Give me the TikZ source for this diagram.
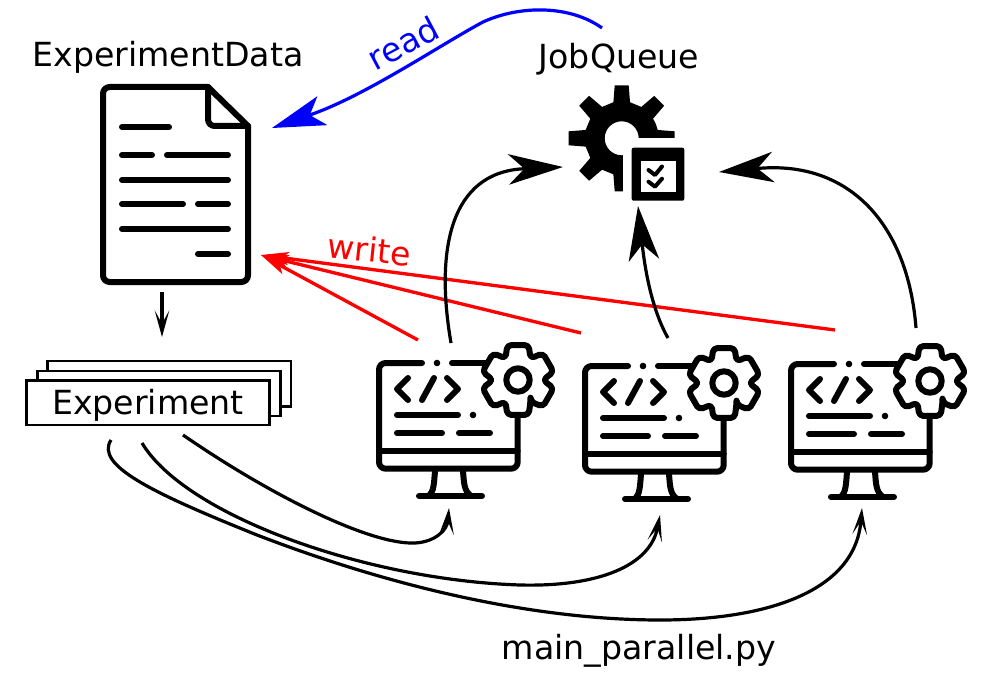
\documentclass[tikz,border=0pt]{standalone}
\usepackage{fontspec}
\setmainfont{DejaVu Sans}
\usetikzlibrary{arrows.meta}
\tikzset{
	iconline/.style={line width=4.5pt, line cap=round, line join=round},
	checkline/.style={line width=3pt, line cap=round, line join=round},
	textlabel/.style={anchor=base, inner sep=0pt, font=\fontsize{24.9}{30}\selectfont},
	stackbox/.style={draw, line width=2pt, fill=white, anchor=north west, inner sep=0pt, outer sep=0pt},
	bigarrow/.style={line width=2.4pt, -{Stealth[length=41pt, width=23pt, inset=12pt, line width=0pt]}},
	smallarrow/.style={line width=2.4pt, -{Stealth[length=20pt, width=11pt, inset=10pt, line width=0pt]}},
	readarrow/.style={line width=2.4pt, color=blue, -{Stealth[length=40pt, width=23pt, inset=10pt, line width=0pt]}},
	writearrow/.style={line width=2.5pt, color=red, -{Stealth[length=21pt, width=10pt, inset=5pt, line width=0pt]}},
	monitor/.pic={
		\draw[iconline, rounded corners=5pt] (43, 0) -- (0, 0) -- (0, 105.7) -- (138.7, 105.7) -- (138.7, 52);
		\draw[iconline] (73, 0) -- (106, 0);
		\draw[iconline] (0, 88) -- (138.7, 88);
		\fill (58, 0) circle (3.3);
		\draw[iconline] (29, 15) -- (18, 26) -- (29, 37);
		\draw[iconline] (55, 15) -- (43, 37);
		\draw[iconline] (68, 15) -- (79, 26) -- (68, 37);
		\draw[iconline] (18, 52) -- (79, 52);
		\fill (94, 52) circle (3.3);
		\draw[iconline] (18, 70) -- (63, 70);
		\draw[iconline] (80, 70) -- (111, 70);
		\draw[iconline] (56, 108) .. controls (55, 120) and (55, 128) .. (50, 133);
		\draw[iconline] (84, 108) .. controls (85, 120) and (85, 128) .. (92, 133);
		\draw[iconline] (40, 133) -- (103, 133);
		\draw[iconline, fill=white, rounded corners=3pt, shift={(139, 17)}] (60:25)
			foreach \a in {90, 150, 210, 270, 330, 390} {-- (\a-17:36.5) -- (\a+17:36.5) -- (\a+30:25)} -- cycle;
		\draw[iconline] (139, 17) circle (11.7);
	}
}

\begin{document}
\begin{tikzpicture}[x=0.75pt, y=-0.75pt]
	%%%%% START %%%%%
	\useasboundingbox (0, 0) rectangle (993, 699);

	\node[textlabel] (datalabel) at (168, 67) {ExperimentData};
	\node[textlabel] (queuelabel) at (619, 69) {JobQueue};
	\node[textlabel] (mainlabel) at (639, 659) {main\_parallel.py};

	% document
	\draw[iconline, rounded corners=5pt] (208, 87) -- (103, 87) -- (103, 282) -- (248, 282) -- (248, 126);
	\draw[iconline] (208, 87) -- (248, 126);
	\draw[iconline, rounded corners=5pt] (208, 87) -- (208, 126) -- (248, 126);
	\draw[iconline] (122, 127) -- (169, 127);
	\draw[iconline] (122, 155) -- (152, 155);
	\draw[iconline] (167, 155) -- (228, 155);
	\draw[iconline] (122, 180) -- (228, 180);
	\draw[iconline] (122, 204) -- (183, 204);
	\draw[iconline] (198, 204) -- (228, 204);
	\draw[iconline] (122, 229) -- (228, 229);
	\draw[iconline] (198, 254) -- (228, 254);

	% job queue
	\fill[even odd rule, shift={(621.7, 138.3)}] (-22.5:37)
		foreach \a in {0, 45, 90, 135, 180, 225, 270, 315} {-- (\a-13:37) -- (\a-7.5:53.5) -- (\a+7.5:53.5) -- (\a+13:37)} -- cycle
		(0, 0) circle (17);
	\fill[white] (622.7, 138.3) rectangle (695, 210);
	\fill[rounded corners=1.5pt] (631.7, 147.7) rectangle (684.3, 200.7);
	\fill[white] (640.7, 160.7) rectangle (676, 191.7);
	\draw[checkline] (648.5, 170) -- (655, 175) -- (662, 166.5);
	\draw[checkline] (648.5, 181.7) -- (655, 186.7) -- (662, 178.7);

	% experiments
	\node[stackbox, minimum width=182.4pt, minimum height=34.3pt] (backbox) at (47.7, 361) {};
	\node[stackbox, minimum width=182.4pt, minimum height=33.8pt] (midbox) at (37.3, 371) {};
	\node[stackbox, minimum width=182pt, minimum height=33.2pt] (frontbox) at (26.7, 380.7) {};
	\node[textlabel] (explabel) at (148, 414) {Experiment};

	\pic (mon1) at (379, 363) {monitor};
	\pic (mon2) at (585, 366) {monitor};
	\pic (mon3) at (791, 364) {monitor};

	\coordinate (docin) at (261, 255);
	\coordinate (docout) at (162, 292);
	\coordinate (stackin) at (162, 337);
	\coordinate (queueread) at (602, 28);
	\coordinate (docread) at (272, 128);
	\coordinate (queuew) at (563, 167);
	\coordinate (queues) at (638, 206);
	\coordinate (queuee) at (719, 172);
	\coordinate (mon1top) at (451, 343);
	\coordinate (mon2top) at (668, 338);
	\coordinate (mon3top) at (916, 328);
	\coordinate (mon1write) at (418, 340);
	\coordinate (mon2write) at (581, 333);
	\coordinate (mon3write) at (835, 330);
	\coordinate (mon1in) at (449, 508);
	\coordinate (mon2in) at (660, 515);
	\coordinate (mon3in) at (862, 508);
	\coordinate (stackc) at (183, 435);
	\coordinate (stackb) at (142, 443);
	\coordinate (stacka) at (111, 440);

	\draw[smallarrow] (docout) -- (stackin);
	\draw[readarrow] (queueread) .. controls (570, 5) and (520, 5) .. (483, 22) .. controls (440, 45) and (365, 96) .. (docread);
	\node[textlabel, color=blue, rotate=28] (readlabel) at (409, 54) {read};
	\node[textlabel, color=red, rotate=-6] (writelabel) at (368, 262) {write};
	\draw[writearrow] (mon1write) -- (docin);
	\draw[writearrow] (mon2write) -- (docin);
	\draw[writearrow] (mon3write) -- (docin);

	\draw[bigarrow] (mon1top) .. controls (435, 250) and (450, 172) .. (queuew);
	\draw[bigarrow] (mon2top) .. controls (652, 310) and (645, 270) .. (queues);
	\draw[bigarrow] (mon3top) .. controls (908, 225) and (850, 160) .. (queuee);

	\draw[smallarrow] (stackc) .. controls (270, 495) and (370, 545) .. (415, 543) .. controls (435, 542) and (447, 530) .. (mon1in);
	\draw[smallarrow] (stackb) .. controls (185, 515) and (365, 580) .. (520, 585) .. controls (600, 587) and (650, 565) .. (mon2in);
	\draw[smallarrow] (stacka) .. controls (95, 465) and (150, 492) .. (257, 535) .. controls (400, 590) and (540, 620) .. (660, 620) .. controls (770, 620) and (855, 590) .. (mon3in);
	%%%%% END %%%%%
\end{tikzpicture}
\end{document}
